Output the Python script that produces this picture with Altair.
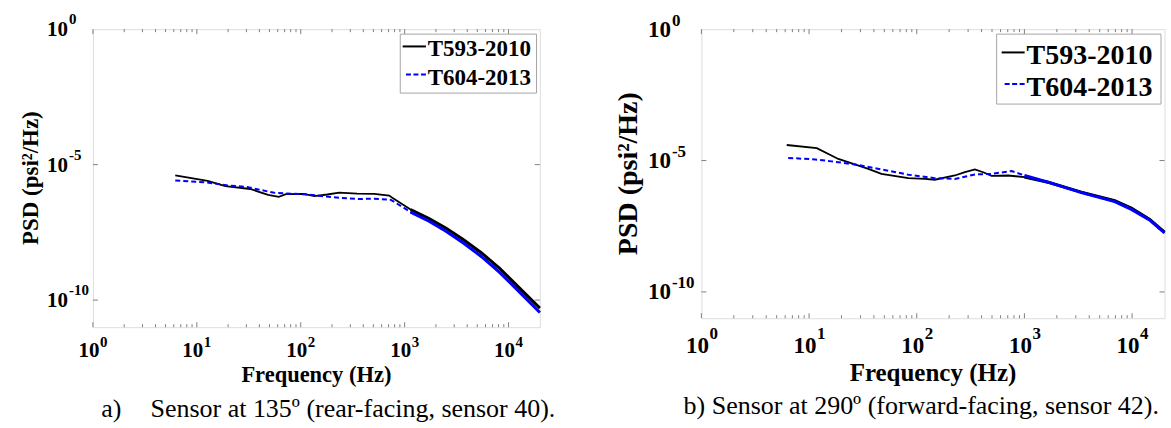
import altair as alt
import pandas as pd

FONT = "Liberation Serif"

# ---------------- data ----------------
SERIES = ["T593-2010", "T604-2013"]

# panel a) sensor 40
a_black_f = [6.2, 12.7, 18.8, 32.7, 48.5, 61.5, 72, 107, 135, 180, 235, 349, 510, 710, 760,
             1140, 1700, 2510, 3720, 5500, 8200, 12000, 20000]
a_black_p = [4.0e-6, 2.5e-6, 1.6e-6, 1.26e-6, 7.6e-7, 6.5e-7, 8.1e-7, 8.3e-7, 6.9e-7, 7.9e-7,
             9.3e-7, 8.5e-7, 8.3e-7, 7.2e-7, 6.0e-7, 2.2e-7, 1.05e-7, 4.5e-8, 1.66e-8, 5.5e-9,
             1.5e-9, 3.5e-10, 5.1e-11]
a_blue_f = [6.2, 12.6, 19.9, 30, 55.7, 72, 117, 150, 200, 244, 350, 510, 738,
            1140, 1700, 2500, 3700, 5500, 8200, 12000, 20000]
a_blue_p = [2.6e-6, 2.2e-6, 1.7e-6, 1.5e-6, 9.1e-7, 8.7e-7, 7.9e-7, 7.1e-7, 6.3e-7, 5.9e-7,
            5.4e-7, 5.5e-7, 5.0e-7, 1.78e-7, 8.3e-8, 3.5e-8, 1.26e-8, 4.0e-9, 1.05e-9,
            2.5e-10, 3.5e-11]

# panel b) sensor 42
b_black_f = [6.2, 11.8, 18.7, 35.5, 47, 83.5, 119, 147, 226, 280, 347, 420, 495, 707, 1000,
             1660, 3380, 6900, 9840, 14500, 20000]
b_black_p = [3.9e-5, 2.95e-5, 1.15e-5, 4.8e-6, 3.1e-6, 2.14e-6, 2.0e-6, 1.86e-6, 2.7e-6,
             3.6e-6, 4.6e-6, 3.5e-6, 2.6e-6, 2.7e-6, 2.34e-6, 1.5e-6, 6.3e-7, 3.0e-7,
             1.55e-7, 5.8e-8, 1.9e-8]
b_blue_f = [6.4, 11.4, 16.2, 26.7, 47, 83.5, 147, 226, 347, 495, 760, 1000, 1660, 3380,
            6900, 9840, 14500, 20000]
b_blue_p = [1.26e-5, 1.1e-5, 9.3e-6, 7.1e-6, 4.6e-6, 2.9e-6, 2.14e-6, 2.0e-6, 2.95e-6,
            3.1e-6, 4.0e-6, 2.7e-6, 1.5e-6, 6.0e-7, 2.75e-7, 1.38e-7, 5.5e-8, 1.78e-8]

x_major = [1, 10, 100, 1000, 10000]
x_major_exp = ["0", "1", "2", "3", "4"]
x_minor = [m * d for d in [1, 10, 100, 1000] for m in range(2, 10)]
y_major = [1, 1e-5, 1e-10]
y_major_exp = ["0", "-5", "-10"]

x_title = "Frequency (Hz)"
y_title = "PSD (psi\u00b2/Hz)"
cap_a_label = "a)"
cap_a_text = "Sensor at 135\u00ba (rear-facing, sensor 40)."
cap_b_text = "b) Sensor at 290\u00ba (forward-facing, sensor 42)."

FRAME = "#a6a6a6"
TICK = "#7f7f7f"
BLUE = "#0000ff"


def one(text):
    return pd.DataFrame({"t": [text]})


def panel(black_f, black_p, blue_f, blue_p, g):
    W, H = g["W"], g["H"]
    xs = alt.Scale(type="log", domain=[1, 20000])
    ys = alt.Scale(type="log", domain=[1e-11, 1])
    X = alt.X("f:Q", scale=xs, axis=None)
    Y = alt.Y("p:Q", scale=ys, axis=None)

    layers = []
    # anchors (invisible) to fix layout
    anc = pd.DataFrame({"t": [0]})
    for (ax, ay) in g["anchors"]:
        layers.append(alt.Chart(anc).mark_rule(opacity=0, strokeWidth=0.01).encode(
            x=alt.value(ax), x2=alt.value(ax), y=alt.value(ay), y2=alt.value(ay)))

    # ticks (inward)
    xt_major = pd.DataFrame({"f": x_major})
    xt_minor = pd.DataFrame({"f": x_minor})
    yt_major = pd.DataFrame({"p": y_major[1:]})
    for df, ln in [(xt_major, 5), (xt_minor, 3)]:
        layers.append(alt.Chart(df).mark_rule(color=TICK, strokeWidth=1).encode(
            x=X, y=alt.value(H), y2=alt.value(H - ln)))
        layers.append(alt.Chart(df).mark_rule(color=TICK, strokeWidth=1).encode(
            x=X, y=alt.value(0), y2=alt.value(ln)))
    layers.append(alt.Chart(yt_major).mark_rule(color=TICK, strokeWidth=1).encode(
        y=Y, x=alt.value(0), x2=alt.value(5)))
    layers.append(alt.Chart(yt_major).mark_rule(color=TICK, strokeWidth=1).encode(
        y=Y, x=alt.value(W - 5), x2=alt.value(W)))

    # data lines (thicker, noisy-looking band at high frequency)
    dfb = pd.DataFrame({"f": black_f, "p": black_p, "s": SERIES[0]})
    dfu = pd.DataFrame({"f": blue_f, "p": blue_p, "s": SERIES[1]})
    layers.append(alt.Chart(dfb).mark_line(color="black", strokeWidth=1.8).encode(x=X, y=Y))
    layers.append(alt.Chart(dfb).transform_filter(alt.datum.f >= g["hf"]).mark_line(
        color="black", strokeWidth=g["hw"]).encode(x=X, y=Y))
    layers.append(alt.Chart(dfu).mark_line(color=BLUE, strokeWidth=2,
                                           strokeDash=[5, 3]).encode(x=X, y=Y))
    layers.append(alt.Chart(dfu).transform_filter(alt.datum.f >= g["hf"]).mark_line(
        color=BLUE, strokeWidth=g["hw"]).encode(x=X, y=Y))

    # tick labels
    xl = pd.DataFrame({"f": x_major, "base": "10", "exp": x_major_exp})
    layers.append(alt.Chart(xl).mark_text(font=FONT, fontWeight="bold", fontSize=g["tfs"],
                                          align="right", baseline="alphabetic", dx=g["xdx"],
                                          color="black").encode(
        x=X, y=alt.value(g["xbase_y"]), text="base:N"))
    layers.append(alt.Chart(xl).mark_text(font=FONT, fontWeight="bold", fontSize=g["efs"],
                                          align="left", baseline="alphabetic", dx=g["xdx"] + 0.5,
                                          color="black").encode(
        x=X, y=alt.value(g["xexp_y"]), text="exp:N"))
    yl = pd.DataFrame({"p": y_major, "base": "10", "exp": y_major_exp})
    layers.append(alt.Chart(yl).mark_text(font=FONT, fontWeight="bold", fontSize=g["tfs"],
                                          align="right", baseline="alphabetic", dy=g["ybase_dy"],
                                          color="black").encode(
        y=Y, x=alt.value(g["ybase_x"]), text="base:N"))
    layers.append(alt.Chart(yl).mark_text(font=FONT, fontWeight="bold", fontSize=g["efs"],
                                          align="left", baseline="alphabetic", dy=g["yexp_dy"],
                                          color="black").encode(
        y=Y, x=alt.value(g["ybase_x"] + 1), text="exp:N"))

    # axis titles
    layers.append(alt.Chart(one(x_title)).mark_text(
        font=FONT, fontWeight="bold", fontSize=g["xtfs"], align="center",
        baseline="alphabetic", color="black").encode(
        x=alt.value(W / 2), y=alt.value(g["xt_y"]), text="t:N"))
    layers.append(alt.Chart(one(y_title)).mark_text(
        font=FONT, fontWeight="bold", fontSize=g["ytfs"], align="center",
        baseline="alphabetic", angle=270, color="black").encode(
        x=alt.value(g["yt_x"]), y=alt.value(H / 2), text="t:N"))

    # legend
    lg = g["leg"]
    layers.append(alt.Chart(one("box")).mark_rect(fill="white", stroke=FRAME, strokeWidth=1).encode(
        x=alt.value(lg["x1"]), x2=alt.value(lg["x2"]), y=alt.value(lg["y1"]), y2=alt.value(lg["y2"])))
    layers.append(alt.Chart(one(SERIES[0])).mark_rule(color="black", strokeWidth=2).encode(
        x=alt.value(lg["lx1"]), x2=alt.value(lg["lx2"]), y=alt.value(lg["r1"]), y2=alt.value(lg["r1"])))
    layers.append(alt.Chart(one(SERIES[1])).mark_rule(color=BLUE, strokeWidth=2,
                                                      strokeDash=[5, 2.5]).encode(
        x=alt.value(lg["bx1"]), x2=alt.value(lg["lx2"]), y=alt.value(lg["r2"]), y2=alt.value(lg["r2"])))
    layers.append(alt.Chart(one(SERIES[0])).mark_text(
        font=FONT, fontWeight="bold", fontSize=lg["fs"], align="left", baseline="alphabetic",
        color="black").encode(x=alt.value(lg["tx"]), y=alt.value(lg["b1"]), text="t:N"))
    layers.append(alt.Chart(one(SERIES[1])).mark_text(
        font=FONT, fontWeight="bold", fontSize=lg["fs"], align="left", baseline="alphabetic",
        color="black").encode(x=alt.value(lg["tx"]), y=alt.value(lg["b2"]), text="t:N"))

    # caption
    for (txt, cx) in g["caps"]:
        layers.append(alt.Chart(one(txt)).mark_text(
            font=FONT, fontSize=g["cfs"], align="left", baseline="alphabetic",
            color="black").encode(x=alt.value(cx), y=alt.value(g["cap_y"]), text="t:N"))

    return alt.layer(*layers).properties(width=W, height=H)


ga = dict(W=447.3, H=298.3, anchors=[(-91.7, -27.7), (508.3, -27.7)],
          hf=1000, hw=3,
          tfs=21, efs=15, xdx=6.5, xbase_y=328, xexp_y=318,
          ybase_x=-25, ybase_dy=7, yexp_dy=-5,
          xtfs=22.5, xt_y=353.6, ytfs=23, yt_x=-55,
          leg=dict(x1=307.6, x2=444, y1=5, y2=64, lx1=310, bx1=313.3, lx2=333.3,
                   r1=17.3, r2=45.3, tx=335, b1=27.3, b2=55.6, fs=23),
          caps=[(cap_a_label, 8.3), (cap_a_text, 57.6)], cfs=26, cap_y=388.5)

gb = dict(W=463.5, H=289.3, anchors=[(-99.5, -26.7)],
          hf=1000, hw=3,
          tfs=23, efs=17, xdx=7.5, xbase_y=324.6, xexp_y=310.6,
          ybase_x=-30.5, ybase_dy=7.5, yexp_dy=-3.5,
          xtfs=25, xt_y=352, ytfs=28, yt_x=-64.5,
          leg=dict(x1=295.5, x2=460, y1=5, y2=75, lx1=300.5, bx1=303.5, lx2=323.5,
                   r1=23.3, r2=55, tx=325.5, b1=35, b2=66.6, fs=28),
          caps=[(cap_b_text, -17.8)], cfs=26, cap_y=385)

left = panel(a_black_f, a_black_p, a_blue_f, a_blue_p, ga)
right = panel(b_black_f, b_black_p, b_blue_f, b_blue_p, gb)

chart = alt.hconcat(left, right, spacing=0).properties(padding=0).configure_view(
    stroke=FRAME, strokeWidth=1).configure(background="white")

chart.save("out.html", embed_options={"renderer": "svg", "actions": False})
